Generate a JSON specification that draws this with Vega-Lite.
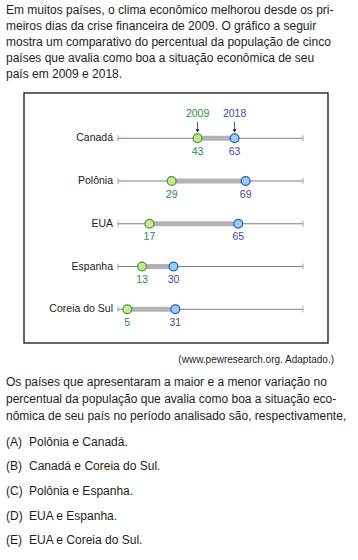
{
  "$schema": "https://vega.github.io/schema/vega-lite/v6.json",
  "padding": 0,
  "spacing": 0,
  "center": true,
  "bounds": "flush",
  "background": "white",
  "config": {"view": {"stroke": null}, "font": "Liberation Sans"},
  "vconcat": [
    {
      "width": 352,
      "height": 93,
      "data": {"values": [
        {"i": 0, "t": "Em muitos países, o clima econômico melhorou desde os pri-"},
        {"i": 1, "t": "meiros dias da crise financeira de 2009. O gráfico a seguir"},
        {"i": 2, "t": "mostra um comparativo do percentual da população de cinco"},
        {"i": 3, "t": "países que avalia como boa a situação econômica de seu"},
        {"i": 4, "t": "país em 2009 e 2018."}
      ]},
      "mark": {"type": "text", "align": "left", "baseline": "middle", "fontSize": 12, "color": "#1e1e1e", "font": "Liberation Sans"},
      "encoding": {
        "x": {"value": 6},
        "y": {"field": "i", "type": "ordinal", "scale": {"type": "point", "padding": 0.906, "align": 0.345}, "axis": null},
        "text": {"field": "t"}
      }
    },
    {
      "width": 304,
      "height": 250,
      "view": {"stroke": "#333333", "strokeWidth": 1.5},
      "data": {"values": [
        {"pais": "Canadá", "v2009": 43, "v2018": 63},
        {"pais": "Polônia", "v2009": 29, "v2018": 69},
        {"pais": "EUA", "v2009": 17, "v2018": 65},
        {"pais": "Espanha", "v2009": 13, "v2018": 30},
        {"pais": "Coreia do Sul", "v2009": 5, "v2018": 31}
      ]},
      "encoding": {
        "y": {"field": "pais", "type": "nominal", "sort": null, "scale": {"type": "point", "padding": 0.924, "align": 0.573}, "axis": null}
      },
      "layer": [
        {
          "mark": {"type": "rule", "color": "#808080", "strokeWidth": 1},
          "encoding": {
            "x": {"datum": 0, "type": "quantitative", "scale": {"domain": [-50.8, 113.5], "nice": false, "zero": false}, "axis": null},
            "x2": {"datum": 100}
          }
        },
        {
          "mark": {"type": "tick", "orient": "vertical", "color": "#808080", "thickness": 1, "size": 6},
          "encoding": {"x": {"datum": 0, "type": "quantitative"}}
        },
        {
          "mark": {"type": "tick", "orient": "vertical", "color": "#808080", "thickness": 1, "size": 6},
          "encoding": {"x": {"datum": 100, "type": "quantitative"}}
        },
        {
          "mark": {"type": "rule", "color": "#b3b3b3", "strokeWidth": 5},
          "encoding": {"x": {"field": "v2009", "type": "quantitative"}, "x2": {"field": "v2018"}}
        },
        {
          "mark": {"type": "circle", "fill": "#d3e48c", "stroke": "#3aa24c", "strokeWidth": 1.3, "size": 78, "opacity": 1},
          "encoding": {"x": {"field": "v2009", "type": "quantitative"}}
        },
        {
          "mark": {"type": "circle", "fill": "#8fd2f6", "stroke": "#3d4fc0", "strokeWidth": 1.3, "size": 78, "opacity": 1},
          "encoding": {"x": {"field": "v2018", "type": "quantitative"}}
        },
        {
          "mark": {"type": "text", "dy": 13.5, "baseline": "middle", "fontSize": 10.5, "color": "#2f8a4f"},
          "encoding": {"x": {"field": "v2009", "type": "quantitative"}, "text": {"field": "v2009"}}
        },
        {
          "mark": {"type": "text", "dy": 13.5, "baseline": "middle", "fontSize": 10.5, "color": "#4a4aa6"},
          "encoding": {"x": {"field": "v2018", "type": "quantitative"}, "text": {"field": "v2018"}}
        },
        {
          "mark": {"type": "text", "align": "right", "baseline": "middle", "dx": -5, "fontSize": 10.5, "color": "#222222"},
          "encoding": {"x": {"datum": 0, "type": "quantitative"}, "text": {"field": "pais"}}
        },
        {
          "transform": [{"filter": "datum.pais === 'Canadá'"}],
          "layer": [
            {
              "mark": {"type": "text", "dy": -24, "baseline": "middle", "fontSize": 10.5, "color": "#2f8a4f"},
              "encoding": {"x": {"field": "v2009", "type": "quantitative"}, "text": {"value": "2009"}}
            },
            {
              "mark": {"type": "text", "dy": -24, "baseline": "middle", "fontSize": 10.5, "color": "#4a4aa6"},
              "encoding": {"x": {"field": "v2018", "type": "quantitative"}, "text": {"value": "2018"}}
            },
            {
              "mark": {"type": "tick", "orient": "vertical", "color": "#111111", "thickness": 1, "size": 9, "yOffset": -12},
              "encoding": {"x": {"field": "v2009", "type": "quantitative"}}
            },
            {
              "mark": {"type": "tick", "orient": "vertical", "color": "#111111", "thickness": 1, "size": 9, "yOffset": -12},
              "encoding": {"x": {"field": "v2018", "type": "quantitative"}}
            },
            {
              "mark": {"type": "point", "shape": "triangle-down", "filled": true, "color": "#111111", "size": 14, "yOffset": -7.5, "opacity": 1},
              "encoding": {"x": {"field": "v2009", "type": "quantitative"}}
            },
            {
              "mark": {"type": "point", "shape": "triangle-down", "filled": true, "color": "#111111", "size": 14, "yOffset": -7.5, "opacity": 1},
              "encoding": {"x": {"field": "v2018", "type": "quantitative"}}
            }
          ]
        }
      ]
    },
    {
      "width": 352,
      "height": 33,
      "data": {"values": [{"t": "(www.pewresearch.org. Adaptado.)"}]},
      "mark": {"type": "text", "align": "right", "baseline": "middle", "fontSize": 10, "color": "#1e1e1e"},
      "encoding": {"x": {"value": 334}, "text": {"field": "t"}}
    },
    {
      "width": 352,
      "height": 46,
      "data": {"values": [
        {"i": 0, "t": "Os países que apresentaram a maior e a menor variação no"},
        {"i": 1, "t": "percentual da população que avalia como boa a situação eco-"},
        {"i": 2, "t": "nômica de seu país no período analisado são, respectivamente,"}
      ]},
      "mark": {"type": "text", "align": "left", "baseline": "middle", "fontSize": 12, "color": "#1e1e1e"},
      "encoding": {
        "x": {"value": 6},
        "y": {"field": "i", "type": "ordinal", "scale": {"type": "point", "padding": 0.377}, "axis": null},
        "text": {"field": "t"}
      }
    },
    {
      "width": 352,
      "height": 138,
      "data": {"values": [
        {"i": 0, "letra": "(A)", "t": "Polônia e Canadá."},
        {"i": 1, "letra": "(B)", "t": "Canadá e Coreia do Sul."},
        {"i": 2, "letra": "(C)", "t": "Polônia e Espanha."},
        {"i": 3, "letra": "(D)", "t": "EUA e Espanha."},
        {"i": 4, "letra": "(E)", "t": "EUA e Coreia do Sul."}
      ]},
      "encoding": {
        "y": {"field": "i", "type": "ordinal", "scale": {"type": "point", "padding": 0.816}, "axis": null}
      },
      "layer": [
        {
          "mark": {"type": "text", "align": "left", "baseline": "middle", "fontSize": 12, "color": "#1e1e1e"},
          "encoding": {"x": {"value": 6}, "text": {"field": "letra"}}
        },
        {
          "mark": {"type": "text", "align": "left", "baseline": "middle", "fontSize": 12, "color": "#1e1e1e"},
          "encoding": {"x": {"value": 29}, "text": {"field": "t"}}
        }
      ]
    }
  ]
}
